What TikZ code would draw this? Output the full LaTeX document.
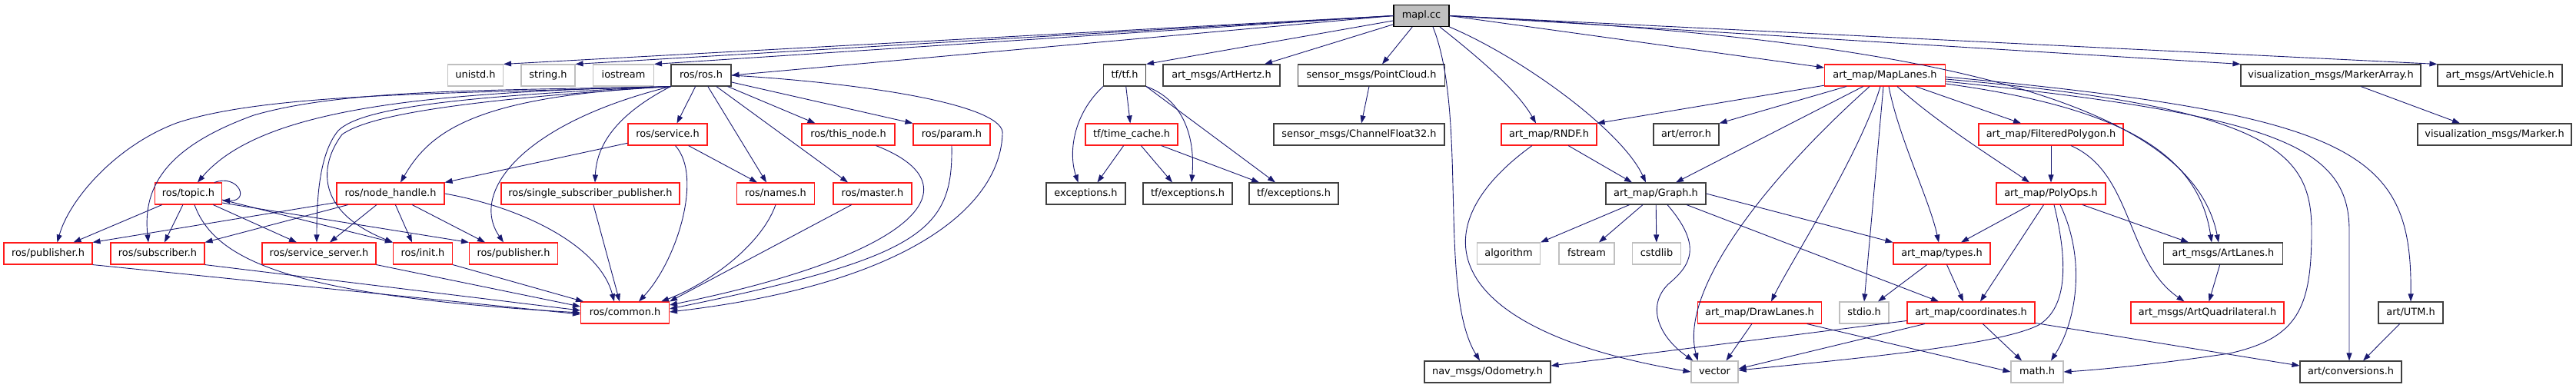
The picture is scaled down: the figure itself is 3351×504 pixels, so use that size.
\documentclass[tikz,border=0pt]{standalone}
\usepackage{fontspec}
\setmainfont{DejaVu Sans}
\usetikzlibrary{arrows.meta}
\definecolor{edgeblue}{HTML}{191970}
\definecolor{boxred}{HTML}{FF1A1A}
\definecolor{boxgray}{HTML}{BFBFBF}
\definecolor{boxdark}{HTML}{404040}
\tikzset{
  file/.style={draw, line width=1.1pt, minimum height=28pt, inner sep=0pt,
    font=\fontsize{12.9}{14}\selectfont, text height=9.4pt, text depth=2.6pt},
  plainfile/.style={file, draw=boxdark},
  redfile/.style={file, draw=boxred},
  sysfile/.style={file, draw=boxgray},
  mainfile/.style={file, draw=black, fill=boxgray},
  dep/.style={draw=edgeblue, line width=0.9pt, -{Triangle[length=10pt,width=7pt]}},
}
\begin{document}
\begin{tikzpicture}[x=1pt,y=-1pt]
  \useasboundingbox (0,0) rectangle (3351,504);
  % top
  \node[mainfile, minimum width=72pt] (mapl) at (1849,20.5) {mapl.cc};
  % second row
  \node[sysfile, minimum width=72pt] (unistd) at (618.5,98) {unistd.h};
  \node[sysfile, minimum width=70pt] (string) at (713,98) {string.h};
  \node[sysfile, minimum width=79pt] (iostream) at (811,98) {iostream};
  \node[plainfile, minimum width=78pt] (rosros) at (912,98) {ros/ros.h};
  \node[plainfile, minimum width=55pt] (tftf) at (1463,98) {tf/tf.h};
  \node[plainfile, minimum width=152pt] (arthertz) at (1589,98) {art\_msgs/ArtHertz.h};
  \node[plainfile, minimum width=191pt] (pointcloud) at (1784,98) {sensor\_msgs/PointCloud.h};
  \node[redfile, minimum width=157pt] (maplanes) at (2452,98) {art\_map/MapLanes.h};
  \node[plainfile, minimum width=234pt] (markerarray) at (3032,98) {visualization\_msgs/MarkerArray.h};
  \node[plainfile, minimum width=162pt] (artvehicle) at (3252,98) {art\_msgs/ArtVehicle.h};
  % third row
  \node[redfile, minimum width=103pt] (service) at (868.5,175) {ros/service.h};
  \node[redfile, minimum width=121pt] (thisnode) at (1103.5,175) {ros/this\_node.h};
  \node[redfile, minimum width=100pt] (param) at (1238,175) {ros/param.h};
  \node[redfile, minimum width=120pt] (timecache) at (1472,175) {tf/time\_cache.h};
  \node[plainfile, minimum width=222pt] (channelfloat) at (1768,175) {sensor\_msgs/ChannelFloat32.h};
  \node[redfile, minimum width=124pt] (rndf) at (2015,175) {art\_map/RNDF.h};
  \node[plainfile, minimum width=85pt] (error) at (2193.5,175) {art/error.h};
  \node[redfile, minimum width=188pt] (filteredpoly) at (2668,175) {art\_map/FilteredPolygon.h};
  \node[plainfile, minimum width=200pt] (marker) at (3245,175) {visualization\_msgs/Marker.h};
  % fourth row
  \node[redfile, minimum width=87pt] (topic) at (245,252) {ros/topic.h};
  \node[redfile, minimum width=140pt] (nodehandle) at (508,252) {ros/node\_handle.h};
  \node[redfile, minimum width=232pt] (singlesub) at (768,252) {ros/single\_subscriber\_publisher.h};
  \node[redfile, minimum width=101pt] (names) at (1009,252) {ros/names.h};
  \node[redfile, minimum width=102pt] (master) at (1135,252) {ros/master.h};
  \node[plainfile, minimum width=103pt] (exceptions) at (1412.5,252) {exceptions.h};
  \node[plainfile, minimum width=116pt] (tfexca) at (1545,252) {tf/exceptions.h};
  \node[plainfile, minimum width=116pt] (tfexcb) at (1683,252) {tf/exceptions.h};
  \node[plainfile, minimum width=130pt] (graph) at (2154,252) {art\_map/Graph.h};
  \node[redfile, minimum width=142pt] (polyops) at (2668,252) {art\_map/PolyOps.h};
  % fifth row
  \node[redfile, minimum width=115pt] (pub1) at (62.5,330) {ros/publisher.h};
  \node[redfile, minimum width=122pt] (subscriber) at (205,330) {ros/subscriber.h};
  \node[redfile, minimum width=148pt] (serviceserver) at (415,330) {ros/service\_server.h};
  \node[redfile, minimum width=77pt] (init) at (550,330) {ros/init.h};
  \node[redfile, minimum width=115pt] (pub2) at (668,330) {ros/publisher.h};
  \node[sysfile, minimum width=82pt] (algorithm) at (1962.5,330) {algorithm};
  \node[sysfile, minimum width=72pt] (fstream) at (2064,330) {fstream};
  \node[sysfile, minimum width=63pt] (cstdlib) at (2155,330) {cstdlib};
  \node[redfile, minimum width=126pt] (types) at (2526,330) {art\_map/types.h};
  \node[plainfile, minimum width=155pt] (artlanes) at (2892,330) {art\_msgs/ArtLanes.h};
  % sixth row
  \node[redfile, minimum width=115pt] (common) at (813,407) {ros/common.h};
  \node[redfile, minimum width=161pt] (drawlanes) at (2289,407) {art\_map/DrawLanes.h};
  \node[sysfile, minimum width=64pt] (stdio) at (2425,407) {stdio.h};
  \node[redfile, minimum width=166pt] (coordinates) at (2564,407) {art\_map/coordinates.h};
  \node[redfile, minimum width=199pt] (artquad) at (2871.5,407) {art\_msgs/ArtQuadrilateral.h};
  \node[plainfile, minimum width=84pt] (utm) at (3136,407) {art/UTM.h};
  % bottom row
  \node[plainfile, minimum width=164pt] (odometry) at (1935,484) {nav\_msgs/Odometry.h};
  \node[sysfile, minimum width=61pt] (vector) at (2230.5,484) {vector};
  \node[sysfile, minimum width=68pt] (math) at (2650,484) {math.h};
  \node[plainfile, minimum width=132pt] (conversions) at (3058,484) {art/conversions.h};

  % mapl.cc
  \draw[dep] (mapl.west) -- (unistd.north east);
  \draw[dep] (mapl.west) -- (string.north east);
  \draw[dep] (mapl.west) -- (iostream.north east);
  \draw[dep] (mapl.west) -- (rosros.east);
  \draw[dep] (mapl) -- (tftf.north east);
  \draw[dep] (mapl) -- ([xshift=56pt]arthertz.north);
  \draw[dep] (mapl) -- ([xshift=14pt]pointcloud.north);
  \draw[dep] ([xshift=15pt]mapl.south) .. controls (1910,150) and (1870,380) .. ([xshift=-10pt]odometry.north);
  \draw[dep] ([xshift=24pt]mapl.south) .. controls (1930,80) and (1975,120) .. ([xshift=-17pt]rndf.north);
  \draw[dep] (mapl.south east) .. controls (1980,75) and (2110,170) .. ([xshift=-13pt]graph.north);
  \draw[dep] (mapl.east) -- ([yshift=10pt]maplanes.west);
  \draw[dep] (mapl.east) -- (markerarray.north west);
  \draw[dep] (mapl.east) -- (artvehicle.north west);
  \draw[dep] (mapl.east) .. controls (2500,50) and (2850,130) .. ([xshift=-6pt]artlanes.north);

  % MapLanes.h
  \draw[dep] (maplanes) -- (rndf.north east);
  \draw[dep] (maplanes) -- (error.north east);
  \draw[dep] (maplanes) -- ([xshift=26pt]graph.north);
  \draw[dep] ([xshift=-20pt]maplanes.south) .. controls (2290,240) and (2185,380) .. ([xshift=-22pt]vector.north);
  \draw[dep] ([xshift=-6pt]maplanes.south) .. controls (2420,200) and (2330,340) .. ([xshift=15pt]drawlanes.north);
  \draw[dep] ([xshift=-2pt]maplanes.south) -- (stdio.north);
  \draw[dep] ([xshift=5pt]maplanes.south) .. controls (2470,180) and (2510,260) .. ([xshift=-4pt]types.north);
  \draw[dep] ([xshift=16pt]maplanes.south) .. controls (2520,160) and (2600,210) .. ([xshift=-28pt]polyops.north);
  \draw[dep] ([xshift=40pt]maplanes.south) -- ([xshift=-39pt]filteredpoly.north);
  \draw[dep] ([yshift=-2pt]maplanes.east) .. controls (3070,150) and (3138,200) .. (utm.north);
  \draw[dep] ([yshift=-5pt]maplanes.east) .. controls (2960,140) and (3007,200) .. (3007,300)
    .. controls (3007,400) and (2990,440) .. (2900,460) .. controls (2800,475) and (2720,482) .. (math.east);
  \draw[dep] ([yshift=-8pt]maplanes.east) .. controls (2960,150) and (3056,190) .. (3056,300) -- ([xshift=-2pt]conversions.north);
  \draw[dep] ([yshift=-11pt]maplanes.east) .. controls (2760,140) and (2860,200) .. ([xshift=-15pt]artlanes.north);

  % Graph.h and RNDF.h
  \draw[dep] (graph) -- (algorithm.north east);
  \draw[dep] (graph) -- ([xshift=16pt]fstream.north);
  \draw[dep] (graph) -- (cstdlib);
  \draw[dep] ([xshift=15pt]graph.south) .. controls (2215,320) and (2200,345) .. (2170,370)
    .. controls (2140,400) and (2160,440) .. ([xshift=-28pt]vector.north);
  \draw[dep] (graph.east) -- (types.north west);
  \draw[dep] ([xshift=40pt]graph.south) -- ([xshift=-42pt]coordinates.north);
  \draw[dep] ([xshift=-22pt]rndf.south) .. controls (1840,300) and (1880,430) .. (vector.west);
  \draw[dep] (rndf) -- ([xshift=-31pt]graph.north);

  % PolyOps.h, FilteredPolygon.h, ArtLanes.h
  \draw[dep] (polyops) -- ([xshift=25pt]types.north);
  \draw[dep] (polyops) -- ([xshift=12pt]coordinates.north);
  \draw[dep] ([xshift=4pt]polyops.south) .. controls (2690,340) and (2690,400) .. (2652,423)
    .. controls (2600,450) and (2400,468) .. ([yshift=2pt]vector.east);
  \draw[dep] ([xshift=12pt]polyops.south) .. controls (2715,340) and (2700,420) .. ([xshift=18pt]math.north);
  \draw[dep] (polyops) -- ([xshift=-45pt]artlanes.north);
  \draw[dep] (filteredpoly) -- (polyops);
  \draw[dep] ([xshift=26pt]filteredpoly.south) .. controls (2775,225) and (2765,340) .. ([xshift=-30pt]artquad.north);
  \draw[dep] (artlanes) -- ([xshift=2pt]artquad.north);

  % types.h, DrawLanes.h, coordinates.h, UTM.h
  \draw[dep] (types) -- ([xshift=18pt]stdio.north);
  \draw[dep] (types) -- ([xshift=-10pt]coordinates.north);
  \draw[dep] (drawlanes) -- ([xshift=15pt]vector.north);
  \draw[dep] (drawlanes) -- (math.west);
  \draw[dep] (coordinates) -- ([yshift=8pt]odometry.east);
  \draw[dep] (coordinates) -- ([yshift=4pt]vector.east);
  \draw[dep] (coordinates) -- ([xshift=-20pt]math.north);
  \draw[dep] (coordinates) -- ([yshift=8pt]conversions.west);
  \draw[dep] (utm) -- ([xshift=16pt]conversions.north);
  \draw[dep] (markerarray) -- ([xshift=-45pt]marker.north);
  \draw[dep] (pointcloud) -- (channelfloat);

  % tf
  \draw[dep] (tftf.south west) .. controls (1395,150) and (1390,200) .. ([xshift=-10pt]exceptions.north);
  \draw[dep] (tftf) -- (timecache);
  \draw[dep] (tftf.south east) .. controls (1540,130) and (1555,180) .. ([xshift=5pt]tfexca.north);
  \draw[dep] (tftf.south east) -- ([xshift=-24pt]tfexcb.north);
  \draw[dep] (timecache) -- ([xshift=15pt]exceptions.north);
  \draw[dep] (timecache) -- ([xshift=-20pt]tfexca.north);
  \draw[dep] (timecache) -- ([xshift=-45pt]tfexcb.north);

  % ros/ros.h
  \draw[dep] (rosros) -- ([xshift=12pt]service.north);
  \draw[dep] (rosros) -- ([xshift=-12pt]names.north);
  \draw[dep] (rosros) -- ([xshift=-32pt]master.north);
  \draw[dep] (rosros) -- ([xshift=-43pt]thisnode.north);
  \draw[dep] (rosros) -- (param.north west);
  \draw[dep] (rosros.east) .. controls (1150,110) and (1310,140) .. (1304,175)
    .. controls (1300,270) and (1180,370) .. ([yshift=1pt]common.east);
  \draw[dep] (rosros.south west) .. controls (800,150) and (776,190) .. ([xshift=6pt]singlesub.north);
  \draw[dep] (rosros.south west) .. controls (680,160) and (610,250) .. ([xshift=-13pt]pub2.north);
  \draw[dep] (rosros.south west) .. controls (620,125) and (560,170) .. ([xshift=13pt]nodehandle.north);
  \draw[dep] (rosros.south west) .. controls (650,118) and (450,115) .. (330,150)
    .. controls (220,190) and (185,240) .. ([xshift=-12pt]subscriber.north);
  \draw[dep] (rosros.south west) .. controls (600,122) and (350,120) .. (230,160)
    .. controls (150,190) and (90,260) .. ([xshift=12pt]pub1.north);
  \draw[dep] (rosros.south west) .. controls (560,120) and (340,140) .. ([xshift=12pt]topic.north);
  \draw[dep] (rosros.south west) .. controls (600,125) and (470,140) .. (440,170)
    .. controls (415,200) and (412,260) .. ([xshift=-3pt]serviceserver.north);
  \draw[dep] (rosros.south west) .. controls (600,130) and (480,150) .. (445,175)
    .. controls (415,215) and (410,275) .. (init.north west);

  % ros/topic.h
  \draw[dep] (topic) -- ([xshift=33pt]pub1.north);
  \draw[dep] (topic) -- ([xshift=9pt]subscriber.north);
  \draw[dep] ([xshift=8pt]topic.south) .. controls (280,340) and (380,385) .. (common.west);
  \draw[dep] (topic) -- ([xshift=-29pt]serviceserver.north);
  \draw[dep] ([yshift=-8pt]topic.east) -- (init.north west);
  \draw[dep] ([yshift=-12pt]topic.east) -- (pub2.north west);
  \draw[dep] ([xshift=-10pt]topic.north east) .. controls (310,226) and (326,262) .. ([yshift=-9pt]topic.east);

  % ros/node_handle.h and ros/service.h
  \draw[dep] (nodehandle) -- (pub1.north east);
  \draw[dep] (nodehandle) -- (subscriber.north east);
  \draw[dep] (nodehandle) -- ([xshift=14pt]serviceserver.north);
  \draw[dep] (nodehandle) -- ([xshift=-14pt]init.north);
  \draw[dep] (nodehandle) -- ([xshift=-37pt]pub2.north);
  \draw[dep] (nodehandle.east) .. controls (680,270) and (780,320) .. ([xshift=-14pt]common.north);
  \draw[dep] (service) -- (nodehandle.north east);
  \draw[dep] (service) -- ([xshift=-24pt]names.north);
  \draw[dep] ([xshift=10pt]service.south) .. controls (915,230) and (880,340) .. ([xshift=18pt]common.north);

  % into ros/common.h
  \draw[dep] (singlesub) -- ([xshift=-7pt]common.north);
  \draw[dep] (names.south) .. controls (990,320) and (920,370) .. ([xshift=47pt]common.north);
  \draw[dep] (master) -- (common.north east);
  \draw[dep] ([xshift=36pt]thisnode.south) .. controls (1270,240) and (1200,330) .. ([yshift=10pt]common.east);
  \draw[dep] (param.south) .. controls (1240,300) and (1200,335) .. ([yshift=5pt]common.east);
  \draw[dep] (pub1.south east) -- ([yshift=-2pt]common.west);
  \draw[dep] (subscriber.south east) -- ([yshift=3pt]common.west);
  \draw[dep] (serviceserver.south east) -- ([yshift=8pt]common.west);
  \draw[dep] (init.south east) -- ([xshift=4pt]common.north west);
\end{tikzpicture}
\end{document}
